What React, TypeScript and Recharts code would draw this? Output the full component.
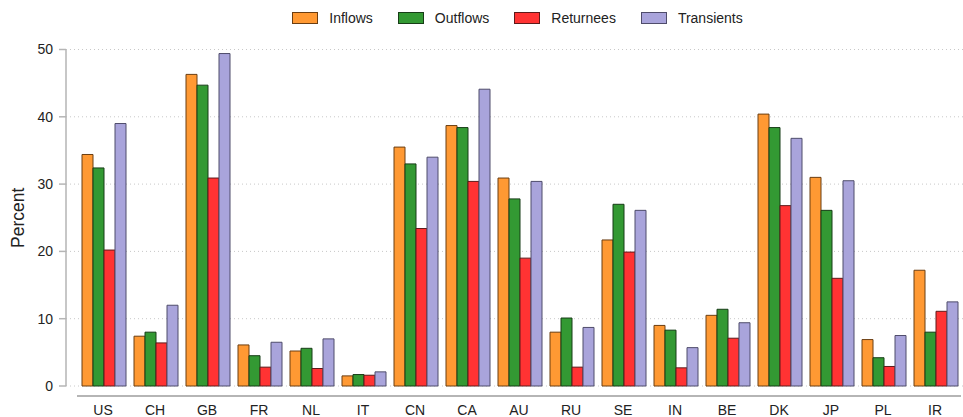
import React from 'react';
import { BarChart, Bar, XAxis, YAxis, CartesianGrid, Legend } from 'recharts';

const categories = ['US', 'CH', 'GB', 'FR', 'NL', 'IT', 'CN', 'CA', 'AU', 'RU', 'SE', 'IN', 'BE', 'DK', 'JP', 'PL', 'IR'];
const inflows = [34.4, 7.4, 46.3, 6.1, 5.2, 1.5, 35.5, 38.7, 30.9, 8.0, 21.7, 9.0, 10.5, 40.4, 31.0, 6.9, 17.2];
const outflows = [32.4, 8.0, 44.7, 4.5, 5.6, 1.7, 33.0, 38.4, 27.8, 10.1, 27.0, 8.3, 11.4, 38.4, 26.1, 4.2, 8.0];
const returnees = [20.2, 6.4, 30.9, 2.8, 2.6, 1.6, 23.4, 30.4, 19.0, 2.8, 19.9, 2.7, 7.1, 26.8, 16.0, 2.9, 11.1];
const transients = [39.0, 12.0, 49.4, 6.5, 7.0, 2.1, 34.0, 44.1, 30.4, 8.7, 26.1, 5.7, 9.4, 36.8, 30.5, 7.5, 12.5];
const yTicks = [0, 10, 20, 30, 40, 50];

const seriesInfo = [
  { key: 'Inflows', fill: '#FF9933', stroke: '#6b3e12' },
  { key: 'Outflows', fill: '#339933', stroke: '#173d17' },
  { key: 'Returnees', fill: '#FF3333', stroke: '#5e1a1a' },
  { key: 'Transients', fill: '#A9A4DB', stroke: '#4f4c6b' },
];

const data = categories.map((c, i) => ({
  name: c,
  Inflows: inflows[i],
  Outflows: outflows[i],
  Returnees: returnees[i],
  Transients: transients[i],
}));

const FONT = 'Liberation Sans, Arial, sans-serif';

const LegendContent = () => (
  <div style={{ display: 'flex', justifyContent: 'center', alignItems: 'center', height: 24, fontFamily: FONT, fontSize: 14, color: '#222' }}>
    {seriesInfo.map((s, i) => (
      <div key={s.key} style={{ display: 'flex', alignItems: 'center', marginLeft: i === 0 ? 0 : 25 }}>
        <div style={{ width: 24, height: 10, background: s.fill, border: `1px solid ${s.stroke}` }} />
        <span style={{ marginLeft: 11 }}>{s.key}</span>
      </div>
    ))}
  </div>
);

const YLabel = (props: any) => {
  const vb = props.viewBox || {};
  const x = (vb.x || 0) + 18;
  const y = (vb.y || 0) + (vb.height || 0) / 2;
  return (
    <text x={x} y={y} transform={`rotate(-90, ${x}, ${y})`} textAnchor="middle" dominantBaseline="central"
      fontFamily={FONT} fontSize={17.5} fill="#222">Percent</text>
  );
};

export default function App() {
  return (
    <div style={{ position: 'absolute', left: 0, top: 0 }}>
      <BarChart width={963} height={417} data={data} margin={{ top: 25.5, right: 0, bottom: 0, left: 0 }}
        barCategoryGap={5} barGap={0}>
        <CartesianGrid horizontal vertical={false} stroke="#c8c8c8" strokeDasharray="1 3" />
        <XAxis dataKey="name" height={31} padding={{ left: 11, right: 2 }} tickLine={false}
          tickSize={10} tickMargin={9}
          axisLine={{ stroke: '#b5b5b5', strokeWidth: 2, transform: 'translate(0,10)', strokeDasharray: '0 11 884 20' }}
          tick={{ fontFamily: FONT, fontSize: 14, fill: '#222' }} interval={0} />
        <YAxis width={66} domain={[0, 50]} ticks={yTicks} tickSize={7} tickMargin={6}
          axisLine={{ stroke: '#b5b5b5', strokeWidth: 1.5 }} tickLine={{ stroke: '#b5b5b5', strokeWidth: 1.5 }}
          tick={{ fontFamily: FONT, fontSize: 14, fill: '#222' }} label={<YLabel />} />
        <Legend verticalAlign="top" content={<LegendContent />}
          wrapperStyle={{ left: 0, top: 6, width: 1035, height: 24 }} />
        {seriesInfo.map((s) => (
          <Bar key={s.key} dataKey={s.key} fill={s.fill} stroke={s.stroke} strokeWidth={1} isAnimationActive={false} />
        ))}
      </BarChart>
    </div>
  );
}
